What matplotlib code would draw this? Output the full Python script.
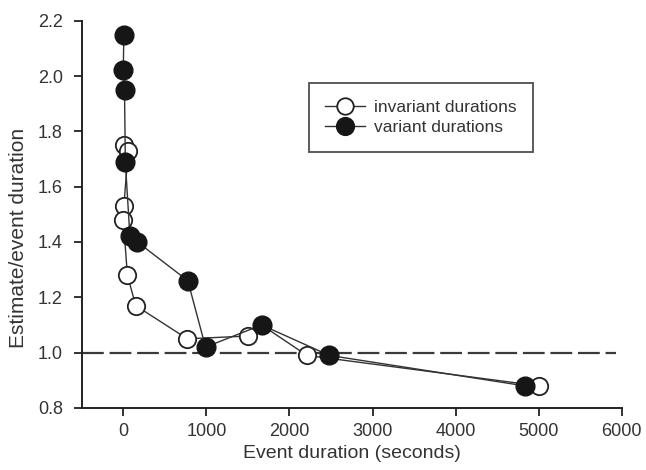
import matplotlib
matplotlib.use("Agg")
import matplotlib.pyplot as plt

# Data
inv_x = [5, 60, 7, 0, 50, 150, 770, 1500, 1665, 2210, 5000]
inv_y = [1.75, 1.73, 1.53, 1.48, 1.28, 1.17, 1.05, 1.06, 1.10, 0.99, 0.88]

var_x = [7, 0, 15, 25, 80, 170, 777, 990, 1665, 2480, 4830]
var_y = [2.15, 2.02, 1.95, 1.69, 1.42, 1.40, 1.26, 1.02, 1.10, 0.99, 0.88]

ref_y = 1.0
x_ticks = [0, 1000, 2000, 3000, 4000, 5000, 6000]
y_ticks = [0.8, 1.0, 1.2, 1.4, 1.6, 1.8, 2.0, 2.2]
y_tick_labels = ["0.8", "1.0", "1.2", "1.4", "1.6", "1.8", "2.0", "2.2"]

plt.rcParams['font.family'] = ['Liberation Sans', 'DejaVu Sans']

fig = plt.figure(figsize=(6.46, 4.70), dpi=100)
ax = fig.add_axes([0.1265, 0.132, 0.836, 0.824])

ax.axhline(ref_y, xmin=0, xmax=0.99, color='#3a3a3a', lw=1.6,
           dashes=(9.8, 2.6), zorder=1)

ax.plot(inv_x, inv_y, '-o', color='#333333', lw=1.0, ms=12.5,
        mfc='white', mec='#222222', mew=1.3, zorder=2,
        label='invariant durations')
ax.plot(var_x, var_y, '-o', color='#333333', lw=1.0, ms=13.5,
        mfc='#161616', mec='#161616', mew=1.0, zorder=3,
        label='variant durations')

ax.set_xlim(-500, 6000)
ax.set_ylim(0.8, 2.2)
ax.set_xticks(x_ticks)
ax.set_yticks(y_ticks)
ax.set_yticklabels(y_tick_labels)

for s in ['top', 'right']:
    ax.spines[s].set_visible(False)
for s in ['left', 'bottom']:
    ax.spines[s].set_linewidth(1.4)
    ax.spines[s].set_color('#222222')

ax.tick_params(direction='out', length=5.5, width=1.3, colors='#222222',
               labelsize=13, labelcolor='#333333', pad=5)
ax.tick_params(axis='y', pad=8)

ax.set_xlabel('Event duration (seconds)', fontsize=14, color='#333333',
              labelpad=4)
ax.set_ylabel('Estimate/event duration', fontsize=15, color='#333333')
ax.yaxis.set_label_coords(-0.1, 0.438)

leg = ax.legend(loc='upper left', bbox_to_anchor=(0.478, 0.823),
                bbox_transform=fig.transFigure, fontsize=12.5,
                frameon=True, fancybox=False, edgecolor='#222222',
                handlelength=2.3, handletextpad=0.5, borderpad=0.95,
                labelspacing=0.3, borderaxespad=0, markerscale=0.95)
leg.get_frame().set_linewidth(1.3)
for t in leg.get_texts():
    t.set_color('#333333')

fig.savefig('out.png', dpi=100)
